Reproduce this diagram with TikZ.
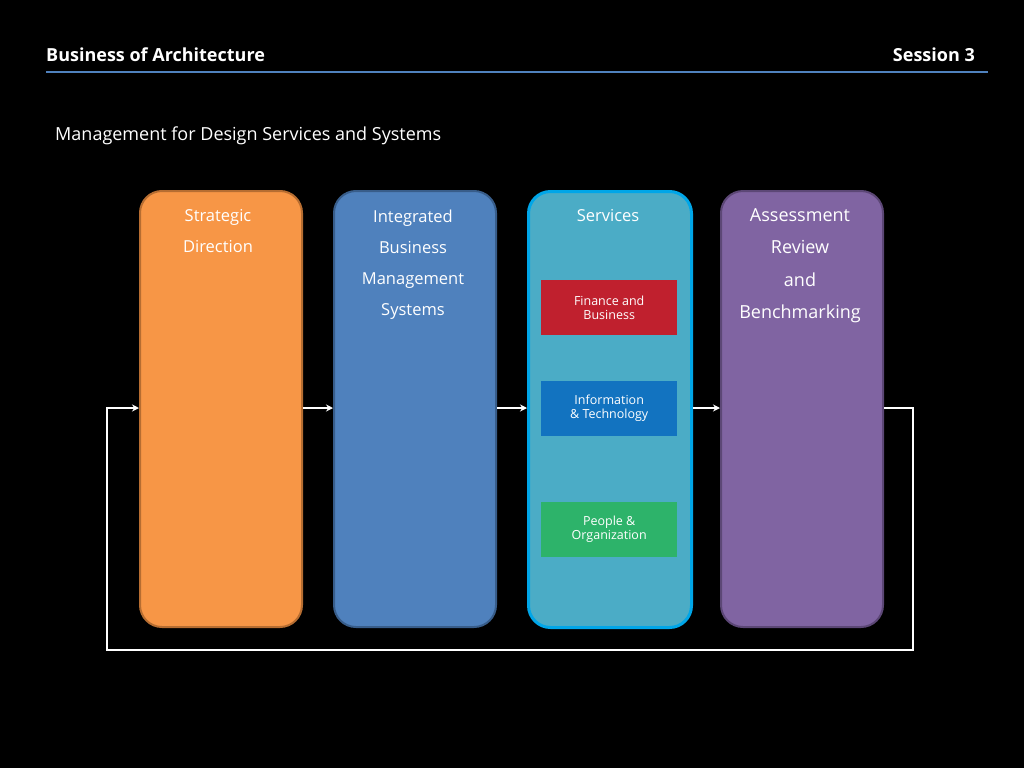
\documentclass[tikz,border=0pt]{standalone}
\usepackage{fontspec}
\setmainfont{Open Sans}
\usetikzlibrary{arrows.meta}
\definecolor{org}{HTML}{F79646}
\definecolor{orgd}{HTML}{B66D31}
\definecolor{blu}{HTML}{4F81BD}
\definecolor{blud}{HTML}{385D8A}
\definecolor{cya}{HTML}{4BACC6}
\definecolor{cyad}{HTML}{00A6E8}
\definecolor{pur}{HTML}{8064A2}
\definecolor{purd}{HTML}{5C4776}
\definecolor{hdr}{HTML}{4F81BD}
\tikzset{
 col/.style={rounded corners=22pt, line width=2pt, minimum width=162pt, minimum height=436pt, anchor=north west},
 sub/.style={minimum width=136pt, minimum height=55pt, text=white, font=\fontsize{12.5}{14}\selectfont, align=center, inner sep=0pt, anchor=north west},
 lbl/.style={text=white, font=\fontsize{16.5}{31}\selectfont, align=center, anchor=north},
 arr/.style={white, line width=2pt, -{Stealth[length=7pt,width=7pt]}},
 ln/.style={white, line width=2pt}
}
\begin{document}
\begin{tikzpicture}[x=1pt,y=-1pt]
\fill[black] (0,0) rectangle (1024,768);
\useasboundingbox (0,0) rectangle (1024,768);
\node[anchor=base west, text=white, font=\fontsize{18}{20}\selectfont\bfseries, inner sep=0] (t1) at (46,61) {Business of Architecture};
\node[anchor=base east, text=white, font=\fontsize{18}{20}\selectfont\bfseries, inner sep=0] (t2) at (975,61) {Session 3};
\draw[hdr, line width=2.5pt] (46,72) -- (988,72);
\node[anchor=base west, text=white, font=\fontsize{18}{20}\selectfont, inner sep=0] (st) at (55,140) {Management for Design Services and Systems};

\node[col, fill=org, draw=orgd] (a) at (139,190) {};
\node[col, fill=blu, draw=blud] (b) at (333,190) {};
\node[col, fill=cya, draw=cyad, line width=3pt, minimum width=163pt] (c) at (527,190) {};
\node[col, fill=pur, draw=purd] (d) at (720,190) {};

\node[lbl] (la) at (218,206) {Strategic\\ Direction};
\node[lbl] (lb) at (413,206) {Integrated\\ Business\\ Management\\ Systems};
\node[lbl] (lc) at (608,206) {Services};
\node[lbl, font=\fontsize{18}{32.5}\selectfont] (ld) at (800,205) {Assessment\\ Review\\ and\\ Benchmarking};

\node[sub, fill={rgb,255:red,192;green,32;blue,46}] (s1) at (541,280) {Finance and\\ Business};
\node[sub, fill={rgb,255:red,18;green,115;blue,192}] (s2) at (541,381) {Information\\ \& Technology};
\node[sub, fill={rgb,255:red,45;green,179;blue,106}] (s3) at (541,502) {People \&\\ Organization};

\coordinate (ay) at (0,408);
\draw[arr] (a.east |- ay) -- (b.west |- ay);
\draw[arr] (b.east |- ay) -- (c.west |- ay);
\draw[arr] (c.east |- ay) -- (d.west |- ay);
\coordinate (p1) at (913,408);
\coordinate (p2) at (913,650);
\coordinate (p3) at (107,650);
\coordinate (p4) at (107,408);
\draw[arr] (d.east |- ay) -- (p1) -- (p2) -- (p3) -- (p4) -- (a.west |- ay);
\end{tikzpicture}
\end{document}
